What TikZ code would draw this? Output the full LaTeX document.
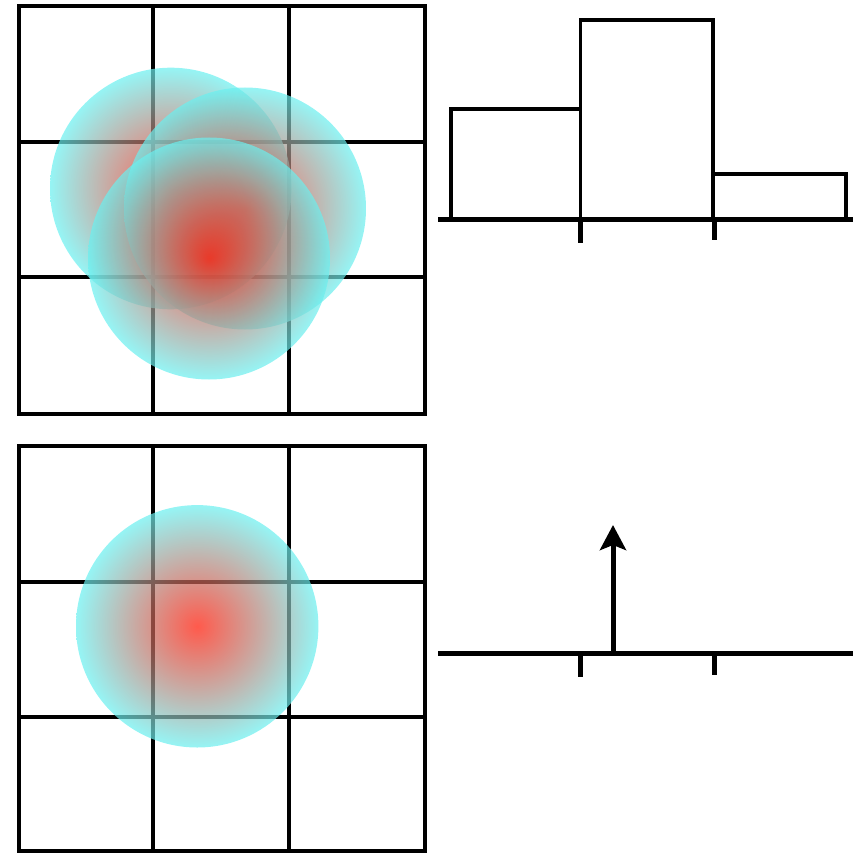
\documentclass[tikz,border=0pt]{standalone}
\usetikzlibrary{arrows.meta}
\definecolor{blobin}{RGB}{255,20,0}
\definecolor{blobout}{RGB}{105,240,240}
\pgfdeclareradialshading{blob}{\pgfpointorigin}{color(0bp)=(blobin); color(25bp)=(blobout); color(50bp)=(blobout)}
\tikzset{
  gridline/.style={line width=3.8pt, black, line join=miter},
  barline/.style={line width=3.6pt, black, line join=miter},
  axisline/.style={line width=5pt, black},
  tickline/.style={line width=5pt, black},
  blobcircle/.style={shading=blob, opacity=0.7},
}
\begin{document}
\begin{tikzpicture}[x=1pt,y=-1pt]
\useasboundingbox (0,0) rectangle (859,853);
% top grid
\draw[gridline] (18.7,6) rectangle (424.7,413.7);
\foreach \x in {153.3,288.7}{\draw[gridline] (\x,6) -- (\x,413.7);}
\foreach \y in {142,277}{\draw[gridline] (18.7,\y) -- (424.7,\y);}
% bottom grid
\draw[gridline] (18.7,446) rectangle (424.7,851.3);
\foreach \x in {153.3,288.7}{\draw[gridline] (\x,446) -- (\x,851.3);}
\foreach \y in {582,717}{\draw[gridline] (18.7,\y) -- (424.7,\y);}
% blobs
\coordinate (b1) at (170.8,188.5);
\coordinate (b2) at (245,208.5);
\coordinate (b3) at (209,258.5);
\coordinate (b4) at (197.2,626.3);
\shade[blobcircle] (b1) circle (120.8);
\shade[blobcircle] (b2) circle (121);
\shade[blobcircle] (b3) circle (121);
\shade[blobcircle] (b4) circle (121.2);
% histogram
\draw[barline] (450.7,219.7) -- (450.7,109.3) -- (580.5,109.3) -- (580.5,219.7);
\draw[barline] (580.5,219.7) -- (580.5,20) -- (713,20) -- (713,219.7);
\draw[barline] (713,219.7) -- (713,174) -- (846,174) -- (846,219.7);
\draw[axisline] (438.3,219.7) -- (852.7,219.7);
\draw[tickline] (580.5,219.7) -- (580.5,242.7);
\draw[tickline] (714.5,219.7) -- (714.5,240);
% delta
\draw[axisline] (438.3,653.7) -- (852.7,653.7);
\draw[tickline] (580,655) -- (580,676.7);
\draw[tickline] (714,655) -- (714,674.5);
\coordinate (arrbase) at (613,653.7);
\coordinate (arrtip) at (613,525);
\draw[line width=5pt, -{Stealth[length=25pt, width=26pt, inset=5pt]}] (arrbase) -- (arrtip);
\end{tikzpicture}
\end{document}
